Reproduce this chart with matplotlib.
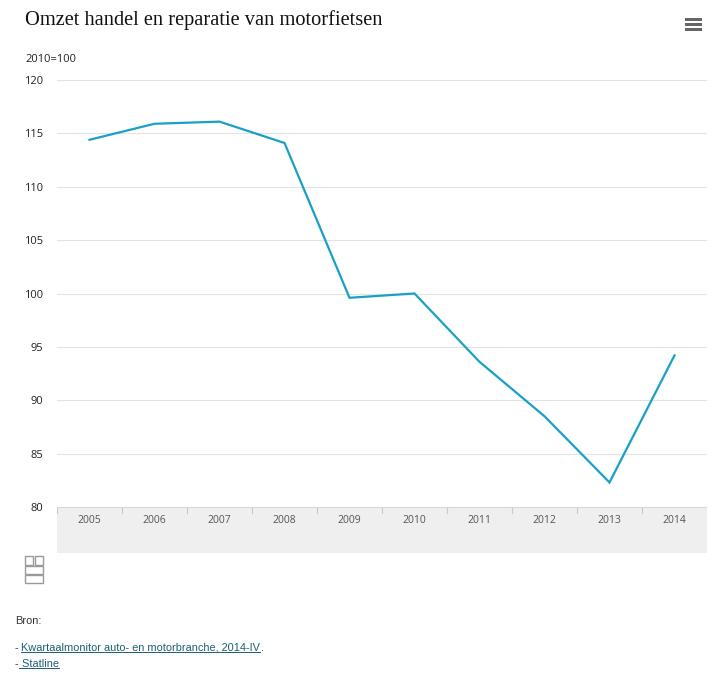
import matplotlib.pyplot as plt
from matplotlib.patches import Rectangle
from matplotlib.lines import Line2D

# Data
years = ['2005', '2006', '2007', '2008', '2009', '2010', '2011', '2012', '2013', '2014']
omzet = [114.4, 115.9, 116.1, 114.1, 99.6, 100.0, 93.6, 88.5, 82.3, 94.2]
y_ticks = [80, 85, 90, 95, 100, 105, 110, 115, 120]

W, H = 718, 682
LINE_COLOR = '#1a9fc9'
LINK_COLOR = '#1d5f73'

fig = plt.figure(figsize=(W / 100, H / 100), dpi=100)
fig.patch.set_facecolor('white')

def fx(px):
    return px / W

def fy(py):
    return 1 - py / H

# Main plot area
ax = fig.add_axes([fx(57), fy(507), fx(707) - fx(57), fy(80) - fy(507)])
ax.plot(range(len(years)), omzet, color=LINE_COLOR, linewidth=1.6, solid_joinstyle='miter')
ax.set_xlim(-0.5, len(years) - 0.5)
ax.set_ylim(80, 120)
ax.set_yticks(y_ticks)
ax.set_yticklabels([str(t) for t in y_ticks], fontsize=8, color='#222222', family='Open Sans')
ax.tick_params(axis='y', length=0, pad=10)
ax.set_xticks([])
ax.grid(axis='y', color='#e3e3e3', linewidth=0.8)
ax.set_axisbelow(True)
for s in ax.spines.values():
    s.set_visible(False)

# Grey band with category labels below the plot
band = fig.add_axes([fx(57), fy(553), fx(707) - fx(57), fy(507) - fy(553)])
band.set_xlim(-0.5, len(years) - 0.5)
band.set_ylim(0, 1)
band.add_patch(Rectangle((-0.5, 0), len(years), 1, color='#efefef', lw=0))
for i in range(len(years) + 1):
    band.plot([i - 0.5, i - 0.5], [0.86, 1.0], color='#c8c8c8', lw=0.8)
band.plot([-0.5, len(years) - 0.5], [1, 1], color='#d8d8d8', lw=0.8)
for i, yr in enumerate(years):
    band.text(i, 0.7, yr, ha='center', va='center', fontsize=7.5, color='#555555',
              family='Open Sans')
band.axis('off')

# Titles
fig.text(fx(25), fy(20), 'Omzet handel en reparatie van motorfietsen',
         fontsize=14.7, family='Liberation Serif', color='#111111', va='center', ha='left')
fig.text(fx(25), fy(59), '2010=100', fontsize=8, color='#222222', va='center', ha='left',
         family='Open Sans')

# Menu icon
for yy in (19, 24, 29):
    fig.patches.append(Rectangle((fx(685), fy(yy + 1.5)), fx(17), fy(yy - 1.5) - fy(yy + 1.5),
                                 transform=fig.transFigure, color='#666666', lw=0))

# Simple CBS logo
logo_x, logo_y = 25, 556
for (dx, dy, w, h) in [(0, 0, 8, 9), (10, 0, 8, 9), (0, 10, 18, 8), (0, 19, 18, 8)]:
    fig.patches.append(Rectangle((fx(logo_x + dx), fy(logo_y + dy + h)), fx(w), fy(0) - fy(h),
                                 transform=fig.transFigure, fill=False, ec='#9a9a9a', lw=1.0))

# Footer
foot = dict(fontsize=7.9, color='#333333', va='center', family='Liberation Sans')
fig.text(fx(15), fy(621), 'Bron:', **foot)
fig.text(fx(15), fy(648), '-', **foot)
fig.text(fx(15), fy(664), '-', **foot)
links = [(fx(21), fy(648), 'Kwartaalmonitor auto- en motorbranche, 2014-IV'),
         (fx(19), fy(664), ' Statline')]
link_texts = [fig.text(x, y, t, fontsize=7.9, color=LINK_COLOR, va='center',
                       family='Liberation Sans') for x, y, t in links]

fig.canvas.draw()
renderer = fig.canvas.get_renderer()
for t in link_texts:
    bb = t.get_window_extent(renderer).transformed(fig.transFigure.inverted())
    fig.lines.append(Line2D([bb.x0, bb.x1], [bb.y0 + 0.002, bb.y0 + 0.002],
                            transform=fig.transFigure, color=LINK_COLOR, lw=0.7))
bb = link_texts[0].get_window_extent(renderer).transformed(fig.transFigure.inverted())
fig.text(bb.x1 + 0.001, fy(648), '.', **foot)

fig.savefig('out.png', dpi=100)
